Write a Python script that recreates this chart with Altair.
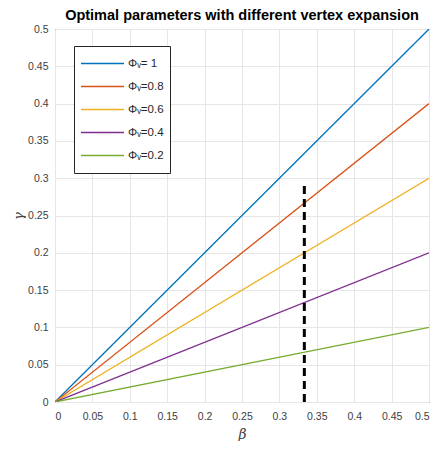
import altair as alt
import pandas as pd

# Data
phis = [1.0, 0.8, 0.6, 0.4, 0.2]
labels = ["Φᵥ= 1", "Φᵥ=0.8", "Φᵥ=0.6", "Φᵥ=0.4", "Φᵥ=0.2"]
colors = ["#0072BD", "#D95319", "#EDB120", "#7E2F8E", "#77AC30"]
beta_points = [0.0, 0.5]
dash_beta = [1 / 3, 1 / 3]
dash_gamma = [0.0, 0.295]
ticks = [0, 0.05, 0.1, 0.15, 0.2, 0.25, 0.3, 0.35, 0.4, 0.45, 0.5]

rows = []
for phi, lab in zip(phis, labels):
    for b in beta_points:
        rows.append({"beta": b, "gamma": phi * b, "label": lab})
lines_df = pd.DataFrame(rows)
dash_df = pd.DataFrame({"beta": dash_beta, "gamma": dash_gamma})

font = "Liberation Sans"

xscale = alt.Scale(domain=[0, 0.5], nice=False)
yscale = alt.Scale(domain=[0, 0.5], nice=False)

xaxis = alt.Axis(values=ticks, format="~g", title="β", grid=True, ticks=False,
                 labelOverlap=False, labelPadding=9, titlePadding=6, titleFontSize=14,
                 titleFontWeight="normal", titleFontStyle="italic", titleColor="#404040")
yaxis = alt.Axis(values=ticks, format="~g", title="γ", grid=True, ticks=False,
                 labelOverlap=False, labelPadding=7, titlePadding=2, titleFontSize=13,
                 titleFontWeight="normal", titleFontStyle="italic", titleColor="#404040")

lines = alt.Chart(lines_df).mark_line(strokeWidth=1.3, clip=True).encode(
    x=alt.X("beta:Q", scale=xscale, axis=xaxis),
    y=alt.Y("gamma:Q", scale=yscale, axis=yaxis),
    color=alt.Color(
        "label:N",
        scale=alt.Scale(domain=labels, range=colors),
        sort=labels,
        legend=alt.Legend(
            title=None, orient="none", legendX=19, legendY=17,
            symbolType="stroke", symbolSize=1849, symbolStrokeWidth=1.5,
            clipHeight=23, rowPadding=0, labelOffset=3,
            labelFontSize=11.5, labelColor="#262626", labelFont=font,
            strokeColor="#262626", fillColor="white", padding=6,
        ),
    ),
    detail="label:N",
)

dash = alt.Chart(dash_df).mark_line(color="black", strokeWidth=3, strokeDash=[8, 5]).encode(
    x=alt.X("beta:Q", scale=xscale, axis=xaxis),
    y=alt.Y("gamma:Q", scale=yscale, axis=yaxis),
)

chart = alt.layer(lines, dash).properties(
    width=374, height=373,
    title=alt.TitleParams("Optimal parameters with different vertex expansion",
                          fontSize=14.5, fontWeight="bold", font=font, color="black",
                          anchor="middle", offset=1),
    autosize=alt.AutoSizeParams(type="none"),
    padding={"left": 47, "top": 21, "right": 1, "bottom": 39},
).configure_axis(
    labelFont=font, titleFont="DejaVu Serif", labelFontSize=10.5, labelColor="#404040",
    gridColor="#e6e6e6", gridWidth=1, domain=False,
).configure_view(
    stroke="#262626", strokeWidth=1,
)

chart.save("out.html", embed_options={"renderer": "svg", "actions": False})
